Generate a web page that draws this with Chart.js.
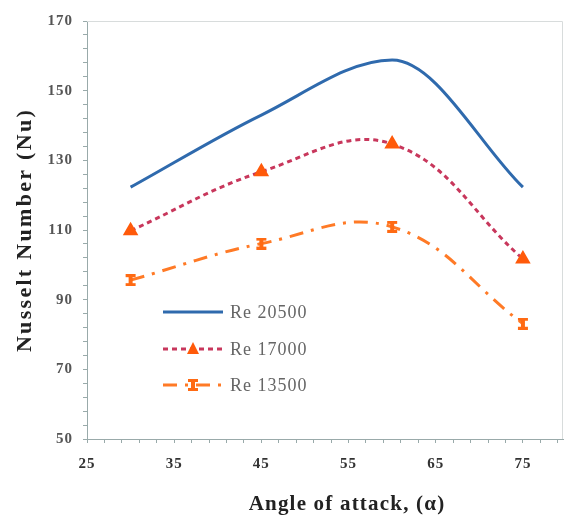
<!DOCTYPE html>
<html><head><meta charset="utf-8">
<script src="https://cdn.jsdelivr.net/npm/chart.js@4.4.1/dist/chart.umd.min.js"></script>
<style>html,body{margin:0;padding:0;background:#fff}#wrap{width:565px;height:519px}</style>
</head><body><div id="wrap"><canvas id="c" width="565" height="519"></canvas></div>
<script>
const angles = [30, 45, 60, 75];
const re20500 = [122.3, 143, 158.8, 122.3];
const re17000 = [109.8, 126.7, 134.7, 101.7];
const re13500 = [95.6, 106.1, 110.9, 83.1];
const seriesLabels = ['Re 20500', 'Re 17000', 'Re 13500'];
const xTickLabels = [25, 35, 45, 55, 65, 75];
const yTickLabels = [50, 70, 90, 110, 130, 150, 170];
const xTitle = 'Angle of attack, (\u03b1)';
const yTitle = 'Nusselt Number (Nu)';

function pts(vals){ return angles.map((a,i)=>({x:a,y:vals[i]})); }

const ibeam = document.createElement('canvas');
ibeam.width = 12; ibeam.height = 12;
(function(){const g=ibeam.getContext('2d');g.fillStyle='#ff6a13';
 g.fillRect(1,0,10,3);g.fillRect(1,9,10,3);g.fillRect(4,2,4,8);})();

const spacingPlugin = {
  id:'spacing',
  beforeDraw(chart){ chart.ctx.letterSpacing = '1px'; },
  afterDraw(chart){ chart.ctx.letterSpacing = '0px'; }
};

const legendPlugin = {
  id:'customLegend',
  afterDraw(chart){
    const ctx = chart.ctx;
    const rows = [312, 349, 385];
    chart.data.datasets.forEach((ds,i)=>{
      const y = rows[i];
      ctx.save();
      ctx.strokeStyle = ds.borderColor; ctx.lineWidth = ds.borderWidth;
      ctx.setLineDash(ds.borderDash || []);
      ctx.beginPath(); ctx.moveTo(163,y); ctx.lineTo(223,y); ctx.stroke();
      ctx.setLineDash([]);
      if (ds.pointStyle === 'triangle'){
        ctx.fillStyle = '#ff5a0a';
        ctx.beginPath(); ctx.moveTo(193,y-7); ctx.lineTo(199,y+5); ctx.lineTo(187,y+5); ctx.closePath(); ctx.fill();
      } else if (ds.pointStyle && ds.pointStyle !== 'circle') {
        ctx.drawImage(ds.pointStyle, 187, y-6);
      }
      ctx.fillStyle = '#666';
      ctx.letterSpacing = '1px';
      ctx.font = '18px "Liberation Serif"';
      ctx.textBaseline = 'middle';
      ctx.fillText(ds.label, 230, y+1);
      ctx.restore();
    });
    ctx.save();
    ctx.fillStyle = '#222';
    ctx.textAlign = 'center'; ctx.textBaseline = 'middle';
    ctx.letterSpacing = '1.2px';
    ctx.font = 'bold 21px "Liberation Serif"';
    ctx.fillText(xTitle, 347, 505);
    ctx.translate(25, 230); ctx.rotate(-Math.PI/2);
    ctx.letterSpacing = '2.3px';
    ctx.font = 'bold 22px "Liberation Serif"';
    ctx.fillText(yTitle, 0, 0);
    ctx.restore();
  }
};
const borderPlugin = {
  id:'frame',
  beforeDatasetsDraw(chart){
    const a = chart.chartArea, ctx = chart.ctx;
    ctx.save(); ctx.strokeStyle='#d8dcdc'; ctx.lineWidth=1;
    ctx.beginPath(); ctx.moveTo(a.left,a.top+0.5); ctx.lineTo(a.right-0.5,a.top+0.5); ctx.lineTo(a.right-0.5,a.bottom); ctx.stroke();
    ctx.restore();
  }
};

function minorTicks(min, max, step){ const t=[]; for(let v=min; v<=max+1e-9; v+=step) t.push({value:v}); return t; }

new Chart(document.getElementById('c'), {
  type:'line',
  data:{ datasets:[
    {label:seriesLabels[0], data:pts(re20500), borderColor:'#2f6aad', borderWidth:3, pointRadius:0, cubicInterpolationMode:'monotone', fill:false},
    {label:seriesLabels[1], data:pts(re17000), borderColor:'#c8375c', borderWidth:3, borderDash:[5,4], pointStyle:'triangle', pointRadius:6, pointBackgroundColor:'#ff5a0a', pointBorderColor:'#ff5a0a', tension:0.4, fill:false},
    {label:seriesLabels[2], data:pts(re13500), borderColor:'#ff7a26', borderWidth:3, borderDash:[14,8,3,8], pointStyle:ibeam, pointRadius:6, tension:0.4, fill:false}
  ]},
  options:{
    responsive:false, animation:false, devicePixelRatio:1,
    layout:{autoPadding:false, padding:{top:21,right:2,left:0,bottom:0}},
    plugins:{legend:{display:false}, tooltip:{enabled:false}},
    scales:{
      x:{type:'linear', min:25, max:79.6,
        afterBuildTicks(s){ s.ticks = minorTicks(25, 79, 2); },
        afterFit(s){ s.height = 80; s.paddingRight = 0; s.paddingLeft = 0; },
        grid:{drawOnChartArea:false, drawTicks:true, tickLength:4, color:'#9aa'},
        border:{color:'#9aa'},
        ticks:{autoSkip:false, maxRotation:0, color:'#333', padding:12,
          font:{family:'"Liberation Serif"', size:15, weight:'bold'},
          callback:v=> xTickLabels.includes(v) ? String(v) : ''},
        title:{display:false}
      },
      y:{min:50, max:170,
        afterBuildTicks(s){ s.ticks = minorTicks(50, 170, 4); },
        afterFit(s){ s.width = 87; },
        grid:{drawOnChartArea:false, drawTicks:true, tickLength:4, color:'#9aa'},
        border:{color:'#9aa'},
        ticks:{autoSkip:false, color:'#555', padding:10,
          font:{family:'"Liberation Serif"', size:15, weight:'bold'},
          callback:v=> yTickLabels.includes(v) ? String(v) : ''},
        title:{display:false}
      }
    }
  },
  plugins:[spacingPlugin, legendPlugin, borderPlugin]
});
</script></body></html>
